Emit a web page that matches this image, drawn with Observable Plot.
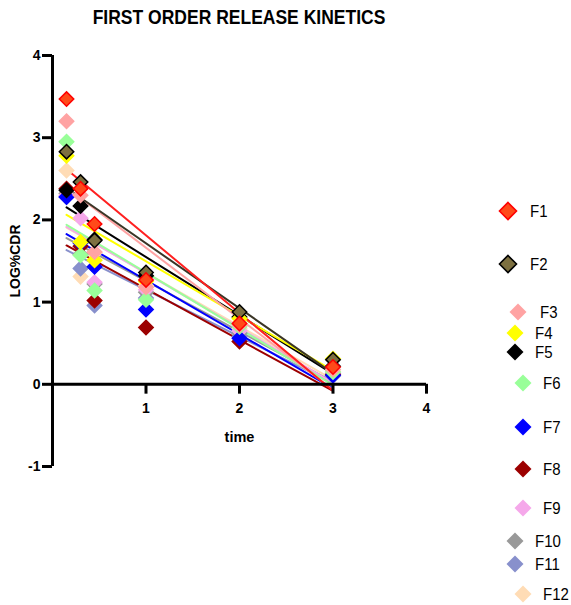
<!DOCTYPE html>
<html><head><meta charset="utf-8">
<script src="https://cdn.jsdelivr.net/npm/d3@7"></script>
<script src="https://cdn.jsdelivr.net/npm/@observablehq/plot@0.6"></script>
<style>
body{margin:0;background:#fff;font-family:"Liberation Sans",Arial,sans-serif;}
#wrap{position:relative;width:571px;height:605px;overflow:hidden;background:#fff;}
#title{position:absolute;left:0;top:7px;width:478px;text-align:center;font-weight:bold;font-size:17.5px;line-height:20px;transform:scaleY(1.12);}
#plot{position:absolute;left:0;top:30px;}
.lg{position:absolute;width:20px;height:20px;}
.lt{position:absolute;font-size:15px;line-height:16px;transform:scaleY(1.15);}
g[aria-label="ylab"] text{letter-spacing:3.5px;}
</style></head>
<body><div id="wrap"><div id="title">FIRST ORDER RELEASE KINETICS</div><div id="plot"></div><div id="legend"></div></div>
<script>
const times = [0.15, 0.3, 0.45, 1, 2, 3];
const seriesNames = ["F1","F2","F3","F4","F5","F6","F7","F8","F9","F10","F11","F12"];
const F1  = [3.47, 2.38, 1.95, 1.27, 0.74, 0.21];
const F2  = [2.83, 2.46, 1.75, 1.36, 0.88, 0.30];
const F3  = [3.20, 2.30, 1.61, 1.18, 0.72, 0.18];
const F4  = [2.78, 1.73, 1.51, 1.25, 0.80, 0.31];
const F5  = [2.36, 2.17, 1.76, 1.32, 0.82, 0.22];
const F6  = [2.95, 1.57, 1.14, 1.03, 0.70, 0.15];
const F7  = [2.28, 1.72, 1.43, 0.91, 0.56, 0.11];
const F8  = [2.38, 1.68, 1.02, 0.69, 0.52, 0.12];
const F9  = [2.30, 2.02, 1.24, 1.15, 0.65, 0.14];
const F10 = [2.32, 1.58, 1.22, 1.12, 0.62, 0.13];
const F11 = [2.28, 1.41, 0.96, 1.05, 0.58, 0.10];
const F12 = [2.60, 1.31, 1.60, 1.20, 0.68, 0.16];
const values = {F1,F2,F3,F4,F5,F6,F7,F8,F9,F10,F11,F12};
const xTicks = [1, 2, 3, 4];
const yTicks = [-1, 0, 1, 2, 3, 4];
const xDomain = [0, 4];
const yDomain = [-1, 4];

const fillColor = {F1:"#ff4a1a",F2:"#7d7040",F3:"#ffa3a3",F4:"#ffff00",F5:"#000000",F6:"#99ff99",
  F7:"#0000ff",F8:"#9c0000",F9:"#f5a8ea",F10:"#999999",F11:"#8890cc",F12:"#ffdcb5"};
const dotStroke = {...fillColor, F1:"#ff0000", F2:"#000000"};
const lineColor = {...fillColor, F1:"#ff2020", F2:"#3a3526"};

const rows = [];
for (const s of [...seriesNames].reverse()) {
  values[s].forEach((v, i) => rows.push({s, t: times[i], v}));
}

const chart = Plot.plot({
  width: 571, height: 575,
  marginLeft: 52, marginRight: 145, marginTop: 25, marginBottom: 139,
  x: {domain: xDomain, axis: null},
  y: {domain: yDomain},
  color: {type: "identity"},
  style: {fontFamily: "'Liberation Sans', Arial, sans-serif", background: "white", color: "black"},
  marks: [
    Plot.linearRegressionY(rows, {x: "t", y: "v", z: "s", stroke: d => lineColor[d.s], ci: 0, strokeWidth: 2}),
    Plot.dot(rows, {x: "t", y: "v", symbol: "diamond2", r: 6.5, fill: d => fillColor[d.s], stroke: d => dotStroke[d.s], strokeWidth: 1.5}),
    Plot.ruleX([0], {strokeWidth: 3}),
    Plot.ruleY([0], {x1: xDomain[0], x2: xDomain[1], strokeWidth: 3}),
    Plot.ruleX(xTicks, {x: d => d, y1: 0, y2: -0.12, strokeWidth: 3}),
    Plot.text(xTicks, {x: d => d, y: 0, dy: 24, text: d => String(d), fontWeight: "bold", fontSize: 14}),
    Plot.axisY({ticks: yTicks, tickFormat: d => String(d), tickSize: 10, strokeWidth: 3, fontWeight: "bold", fontSize: 14, label: null, tickPadding: 2}),
    Plot.text(["time"], {x: d3.mean(xDomain), y: 0, dy: 53, text: d => d, fontWeight: "bold", fontSize: 14.5}),
    Plot.text(["LOG%CDR"], {x: xDomain[0], y: d3.mean(yDomain), rotate: -90, dx: -37, text: d => d, fontWeight: "bold", fontSize: 14, ariaLabel: "ylab"})
  ]
});
document.getElementById("plot").appendChild(chart);
chart.querySelectorAll('g[aria-label="ylab"] text').forEach(t => t.setAttribute("letter-spacing", "3.5"));

// legend
const legendPos = {
  F1: [508, 211, 530], F2: [508, 264, 530], F3: [518, 312, 540], F4: [515, 333, 535],
  F5: [515, 352, 535], F6: [523, 383, 543], F7: [523, 427, 543], F8: [523, 469, 543],
  F9: [523, 508, 543], F10: [515, 541, 535], F11: [515, 564, 535], F12: [523, 594, 543]
};
const lg = document.getElementById("legend");
for (const s of seriesNames) {
  const [mx, my, tx] = legendPos[s];
  const outlined = s === "F1" || s === "F2";
  const sw = outlined ? 1.6 : 0;
  lg.insertAdjacentHTML("beforeend",
    `<svg class="lg" style="left:${mx-10}px;top:${my-10}px" viewBox="-10 -10 20 20"><path d="M0,-8.5L8.5,0L0,8.5L-8.5,0Z" fill="${fillColor[s]}" stroke="${outlined ? dotStroke[s] : 'none'}" stroke-width="${sw}"/></svg>` +
    `<div class="lt" style="left:${tx}px;top:${my-8}px">${s}</div>`);
}
</script></body></html>
